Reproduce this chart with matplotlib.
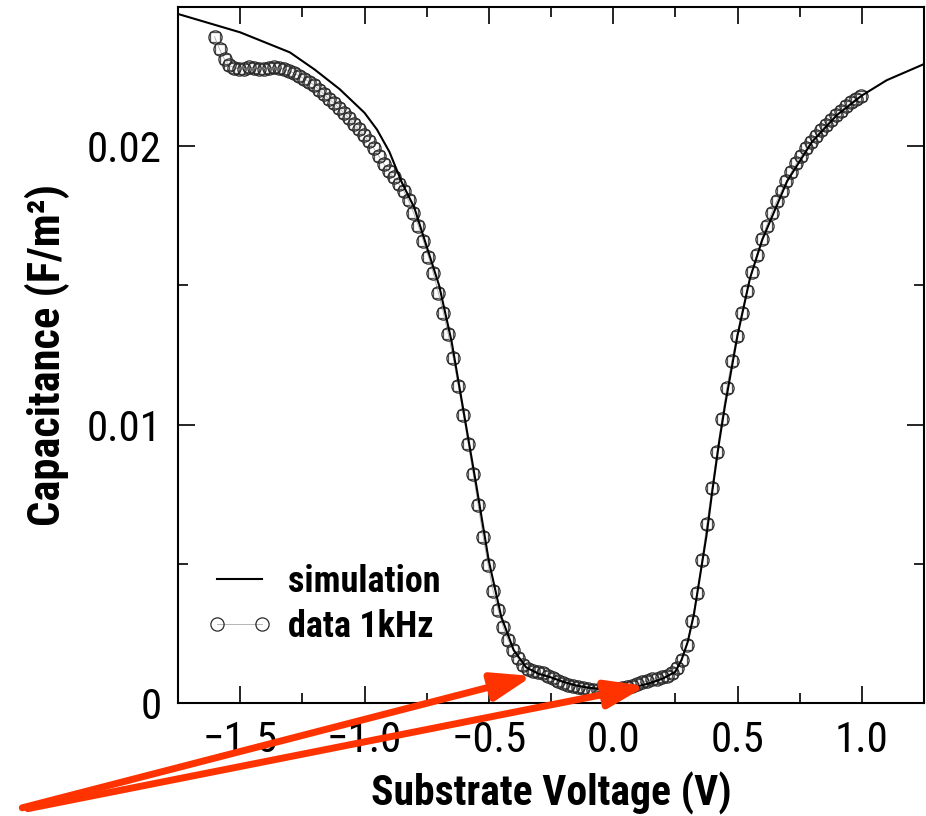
import numpy as np
import matplotlib
matplotlib.use("Agg")
import matplotlib.pyplot as plt
from matplotlib.ticker import MultipleLocator, FixedFormatter, FixedLocator

plt.rcParams['font.family'] = ['Roboto Condensed', 'DejaVu Sans']
plt.rcParams['font.stretch'] = 'condensed'

# simulated C-V curve
sim_v = [-1.75, -1.50, -1.30, -1.20, -1.10, -1.00, -0.95, -0.90, -0.85, -0.80,
         -0.75, -0.70, -0.65, -0.60, -0.55, -0.50, -0.45, -0.40, -0.35, -0.30,
         -0.25, -0.20, -0.15, -0.10, -0.05, 0.00, 0.05, 0.10, 0.15, 0.20,
         0.25, 0.275, 0.30, 0.325, 0.35, 0.375, 0.40, 0.425, 0.45, 0.50,
         0.55, 0.60, 0.70, 0.80, 0.90, 1.00, 1.10, 1.25]
sim_c = [0.02475, 0.02409, 0.02337, 0.02275, 0.02205, 0.02120, 0.02060, 0.01980, 0.01870, 0.01780,
         0.01640, 0.01500, 0.01300, 0.01040, 0.00780, 0.00510, 0.00310, 0.00190, 0.00128, 0.00105,
         0.00092, 0.00076, 0.00063, 0.00055, 0.00050, 0.00049, 0.00052, 0.00060, 0.00072, 0.00088,
         0.00112, 0.00155, 0.00220, 0.00320, 0.00460, 0.00600, 0.00770, 0.00930, 0.01070, 0.01320,
         0.01525, 0.01665, 0.01875, 0.02016, 0.02112, 0.02182, 0.02237, 0.02295]

# measured data, 1 kHz
data_v = [-1.603, -1.583, -1.563, -1.543, -1.523, -1.503, -1.483, -1.463, -1.443, -1.423,
          -1.403, -1.383, -1.363, -1.343, -1.323, -1.303, -1.283, -1.263, -1.243, -1.223,
          -1.203, -1.183, -1.163, -1.143, -1.123, -1.103, -1.083, -1.063, -1.043, -1.023,
          -1.003, -0.983, -0.963, -0.943, -0.923, -0.903, -0.883, -0.863, -0.843, -0.823,
          -0.803, -0.783, -0.763, -0.743, -0.723, -0.703, -0.683, -0.663, -0.643, -0.623,
          -0.603, -0.583, -0.563, -0.543, -0.523, -0.503, -0.483, -0.463, -0.443, -0.423,
          -0.403, -0.383, -0.363, -0.343, -0.323, -0.303, -0.283, -0.263, -0.243, -0.223,
          -0.203, -0.183, -0.163, -0.143, -0.123, -0.103, -0.083, -0.063, -0.043, -0.023,
          -0.003, 0.017, 0.037, 0.057, 0.077, 0.097, 0.117, 0.137, 0.157, 0.177,
          0.197, 0.217, 0.237, 0.257, 0.277, 0.297, 0.317, 0.337, 0.357, 0.377,
          0.397, 0.417, 0.437, 0.457, 0.477, 0.497, 0.517, 0.537, 0.557, 0.577,
          0.597, 0.617, 0.637, 0.657, 0.677, 0.697, 0.717, 0.737, 0.757, 0.777,
          0.797, 0.817, 0.837, 0.857, 0.877, 0.897, 0.917, 0.937, 0.957, 0.977,
          0.997]
data_c = [0.02393, 0.02349, 0.02312, 0.02290, 0.02281, 0.02277, 0.02278, 0.02285, 0.02281, 0.02278,
          0.02279, 0.02282, 0.02284, 0.02282, 0.02277, 0.02270, 0.02262, 0.02253, 0.02243, 0.02232,
          0.02219, 0.02203, 0.02186, 0.02170, 0.02155, 0.02138, 0.02120, 0.02101, 0.02081, 0.02060,
          0.02040, 0.02017, 0.01993, 0.01966, 0.01937, 0.01910, 0.01888, 0.01866, 0.01840, 0.01805,
          0.01761, 0.01713, 0.01659, 0.01603, 0.01543, 0.01474, 0.01402, 0.01324, 0.01238, 0.01140,
          0.01036, 0.00932, 0.00824, 0.00712, 0.00598, 0.00496, 0.00404, 0.00335, 0.00274, 0.00227,
          0.00191, 0.00161, 0.00137, 0.00121, 0.00115, 0.00110, 0.00106, 0.00098, 0.00089, 0.00080,
          0.00072, 0.00066, 0.00061, 0.00057, 0.00053, 0.00049, 0.00047, 0.00045, 0.00043, 0.00044,
          0.00047, 0.00050, 0.00053, 0.00057, 0.00062, 0.00069, 0.00075, 0.00080, 0.00085, 0.00088,
          0.00092, 0.00097, 0.00108, 0.00124, 0.00153, 0.00209, 0.00293, 0.00395, 0.00512, 0.00644,
          0.00772, 0.00900, 0.01020, 0.01132, 0.01228, 0.01320, 0.01402, 0.01480, 0.01548, 0.01610,
          0.01665, 0.01715, 0.01760, 0.01802, 0.01840, 0.01875, 0.01908, 0.01938, 0.01966, 0.01992,
          0.02016, 0.02038, 0.02058, 0.02077, 0.02095, 0.02112, 0.02128, 0.02143, 0.02157, 0.02170,
          0.02182]

# red arrows: head point (data) and tail (figure fraction)
arrow_heads = [(-0.325, 0.00097), (0.132, 0.00061)]
arrow_tails = [(0.024, 0.010), (0.030, 0.009)]

x_ticks = [-1.5, -1.0, -0.5, 0.0, 0.5, 1.0]
x_ticklabels = ['\u22121.5', '\u22121.0', '\u22120.5', '0.0', '0.5', '1.0']
y_ticks = [0, 0.01, 0.02]
y_ticklabels = ['0', '0.01', '0.02']

fig = plt.figure(figsize=(9.26, 8.16), dpi=100)
ax = fig.add_axes([178 / 926, 113 / 816, 746 / 926, 696 / 816])

ax.plot(sim_v, sim_c, color='black', lw=1.5, label='simulation', zorder=3)
ax.plot(data_v, data_c, ls='none', marker='s', ms=7, mfc='none', mec='#555555',
        mew=0.9, zorder=2)
ax.plot(data_v, data_c, color='#aaaaaa', lw=0.6, marker='o', ms=9.5, mfc='none',
        mec='#2a2a2a', mew=0.9, label='data 1kHz', zorder=2)

ax.set_xlim(-1.75, 1.25)
ax.set_ylim(0, 0.025)
ax.xaxis.set_major_locator(FixedLocator(x_ticks))
ax.xaxis.set_major_formatter(FixedFormatter(x_ticklabels))
ax.xaxis.set_minor_locator(MultipleLocator(0.25))
ax.yaxis.set_major_locator(FixedLocator(y_ticks))
ax.yaxis.set_major_formatter(FixedFormatter(y_ticklabels))
ax.yaxis.set_minor_locator(MultipleLocator(0.005))
ax.tick_params(which='both', direction='in', top=True, right=True, width=1.2)
ax.tick_params(which='major', length=12, labelsize=31, pad=12)
ax.tick_params(which='minor', length=7)
for s in ax.spines.values():
    s.set_linewidth(1.5)

ax.set_xlabel('Substrate Voltage (V)', fontsize=30, fontweight='bold', labelpad=8)
ax.set_ylabel('Capacitance (F/m\u00b2)', fontsize=32, fontweight='bold', labelpad=12)

ax.legend(loc='upper left', bbox_to_anchor=(0.038, 0.2), frameon=False,
          prop={'weight': 'bold', 'size': 26}, handlelength=1.85, handletextpad=0.4,
          labelspacing=0.25, borderpad=0, borderaxespad=0, numpoints=2)

for head, tail in zip(arrow_heads, arrow_tails):
    ax.annotate('', xy=head, xycoords='data', xytext=tail, textcoords='figure fraction',
                arrowprops=dict(arrowstyle='-|>,head_length=0.8,head_width=0.28',
                                color='#ff3300', lw=5, mutation_scale=30,
                                shrinkA=0, shrinkB=0),
                zorder=10, annotation_clip=False)

fig.savefig('out.png', dpi=100)
